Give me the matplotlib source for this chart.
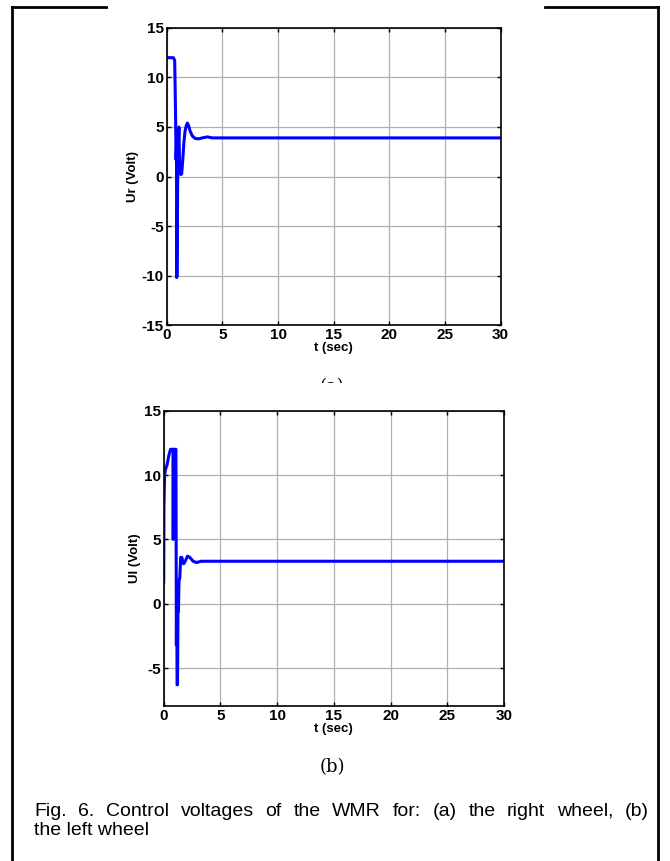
import numpy as np
import matplotlib.pyplot as plt
from matplotlib.lines import Line2D
from matplotlib.patches import Rectangle

# tensione di controllo ruota destra (a)
t_r = [0, 0.3, 0.6, 0.72, 0.8, 0.84, 0.88, 0.9, 0.93, 1.0, 1.1, 1.15, 1.2, 1.28,
       1.35, 1.45, 1.55, 1.65, 1.75, 1.85, 1.95, 2.1, 2.3, 2.55, 2.85, 3.2, 3.65,
       4.1, 6, 9, 12, 15, 18, 21, 24, 27, 30]
u_r = [12, 12, 12, 11.7, 6, 1.7, 3, -10.2, -10, 2, 5, 1.5, 0.3, 0.2,
       0.3, 1.8, 3.5, 4.6, 5.1, 5.4, 5.2, 4.6, 4.1, 3.85, 3.8, 3.9, 4.0,
       3.9, 3.9, 3.9, 3.9, 3.9, 3.9, 3.9, 3.9, 3.9, 3.9]

# tensione di controllo ruota sinistra (b)
t_l = [0, 0.02, 0.08, 0.15, 0.3, 0.45, 0.6, 0.82, 0.84, 0.87, 0.9, 0.95, 0.97,
       1.0, 1.08, 1.12, 1.15, 1.18, 1.22, 1.26, 1.3, 1.35, 1.42, 1.5, 1.6,
       1.75, 1.9, 2.1, 2.3, 2.6, 2.9, 3.3, 6, 10, 15, 20, 25, 30]
u_l = [1.7, 7.5, 9.9, 10.4, 10.8, 11.5, 12, 12, 5, 12, 12, 12, 5.1,
       12, 12, -3.2, 1.5, -6.3, -6.3, -0.6, -0.6, 1.8, 2.0, 3.6, 3.6,
       3.1, 3.3, 3.7, 3.6, 3.3, 3.2, 3.3, 3.3, 3.3, 3.3, 3.3, 3.3, 3.3]

x_ticks = [0, 5, 10, 15, 20, 25, 30]

caption1 = 'Fig. 6. Control voltages of the WMR for: (a) the right wheel, (b)'
caption2 = 'the left wheel'

plt.rcParams['font.family'] = ['Liberation Sans', 'DejaVu Sans']
plt.rcParams['axes.unicode_minus'] = False

fig = plt.figure(figsize = (6.7, 8.61), dpi = 100)

def setup(ax, ylim, yticks, ylabel):
    ax.set_xlim(0, 30)
    ax.set_ylim(*ylim)
    ax.set_xticks(x_ticks)
    ax.set_yticks(yticks)
    ax.grid(True, color = '#b0b0b0', linewidth = 0.9)
    ax.set_axisbelow(True)
    ax.tick_params(direction = 'in', top = True, right = True, length = 3,
                   width = 1, labelsize = 11, pad = 2)
    for lab in ax.get_xticklabels() + ax.get_yticklabels():
        lab.set_fontweight('bold')
    for sp in ax.spines.values():
        sp.set_linewidth(1.2)
    ax.set_xlabel('t (sec)', fontsize = 9.5, fontweight = 'bold', labelpad = 0)
    ax.set_ylabel(ylabel, fontsize = 9.5, fontweight = 'bold', labelpad = 2)

ax1 = fig.add_axes([0.2488, 0.6225, 0.4984, 0.345])
ax1.plot(t_r, u_r, color = 'blue', linewidth = 2.2)
setup(ax1, (-15, 15), [-15, -10, -5, 0, 5, 10, 15], 'Ur (Volt)')

ax2 = fig.add_axes([0.2443, 0.18, 0.508, 0.343])
ax2.plot(t_l, u_l, color = 'blue', linewidth = 2.2)
setup(ax2, (-7.95, 15), [-5, 0, 5, 10, 15], 'Ul (Volt)')

# etichetta (a) coperta in parte dal secondo grafico
fig.text(0.4955, 1 - 387/861, '(a)', ha = 'center', va = 'center',
         fontsize = 13, family = 'DejaVu Serif')
fig.patches.append(Rectangle((0.3, 1 - 410/861), 0.4, (410 - 382.5)/861,
                             transform = fig.transFigure, facecolor = 'white',
                             edgecolor = 'none', zorder = 5))

fig.text(0.4955, 1 - 767/861, '(b)', ha = 'center', va = 'center',
         fontsize = 13, family = 'DejaVu Serif')

# didascalia giustificata: prima riga da x=34 a x=649 px
x0, x1 = 34, 649
words = caption1.split()
r = fig.canvas.get_renderer()
txts = [fig.text(0, 1 - 816/861, w, ha = 'left', va = 'baseline', fontsize = 14)
        for w in words]
widths = [t.get_window_extent(r).width for t in txts]
gap = (x1 - x0 - sum(widths)) / (len(words) - 1)
x = x0
for t, w in zip(txts, widths):
    t.set_x(x / 670)
    x += w + gap
fig.text(x0/670, 1 - 835/861, caption2, ha = 'left', va = 'baseline',
         fontsize = 14)

# cornice
yt = 1 - 7/861
xl, xr = 12/670, 658/670
for xs, ys in [([xl, xl], [0, yt]), ([xr, xr], [0, yt]),
               ([xl, 106/670], [yt, yt]), ([545/670, xr], [yt, yt])]:
    fig.add_artist(Line2D(xs, ys, color = 'black', linewidth = 2,
                          transform = fig.transFigure))

fig.savefig('out.png', dpi = 100)
